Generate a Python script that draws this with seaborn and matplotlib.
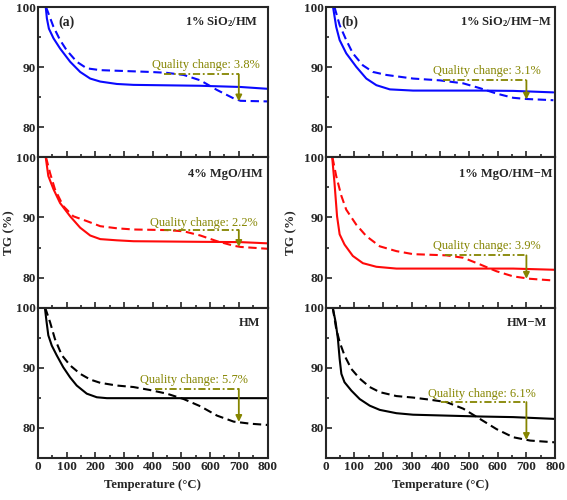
import numpy as np
import pandas as pd
import matplotlib
matplotlib.use("Agg")
import matplotlib.pyplot as plt
from matplotlib.ticker import MultipleLocator
import seaborn as sns

# ---------------- data ----------------
# (a) top: 1% SiO2/HM
T_a1_solid = [27, 31, 38, 54, 77, 112, 147, 182, 217, 275, 333, 566, 706, 799]
TG_a1_solid = [100, 98.1, 96.4, 94.8, 93.1, 90.9, 89.2, 88.1, 87.6, 87.2, 87.05, 86.9, 86.7, 86.4]
T_a1_dash = [28, 54, 77, 100, 135, 170, 217, 275, 333, 391, 449, 508, 566, 624, 682, 706, 799]
TG_a1_dash = [100, 96.7, 94.5, 92.8, 90.9, 89.8, 89.5, 89.4, 89.3, 89.2, 89.05, 88.7, 87.8, 86.2, 84.8, 84.4, 84.3]

# (b) top: 1% SiO2/HM-M
T_b1_solid = [26, 37, 49, 72, 107, 142, 177, 224, 305, 421, 538, 654, 794]
TG_b1_solid = [100, 96.7, 94.5, 92.3, 90.05, 88.1, 87.0, 86.3, 86.1, 86.1, 86.1, 86.05, 85.8]
T_b1_dash = [31, 49, 72, 95, 130, 165, 212, 305, 398, 480, 538, 596, 654, 701, 794]
TG_b1_dash = [100, 97.0, 94.5, 92.3, 90.3, 89.2, 88.7, 88.1, 87.8, 87.3, 86.5, 85.6, 84.9, 84.7, 84.5]

# (a) middle: 4% MgO/HM
T_a2_solid = [27, 36, 54, 77, 112, 147, 182, 217, 275, 333, 566, 706, 799]
TG_a2_solid = [100, 96.9, 94.7, 92.4, 90.2, 88.3, 87.0, 86.4, 86.2, 86.05, 85.95, 85.9, 85.7]
T_a2_dash = [28, 42, 59, 88, 123, 170, 217, 275, 333, 449, 508, 566, 624, 682, 706, 799]
TG_a2_dash = [100, 97.4, 94.7, 91.9, 90.2, 89.4, 88.55, 88.2, 88.0, 87.9, 87.7, 87.0, 86.05, 85.3, 85.1, 84.8]

# (b) middle: 1% MgO/HM-M
T_b2_solid = [23, 31, 40, 49, 66, 95, 130, 177, 247, 421, 654, 800]
TG_b2_solid = [100, 95.8, 90.2, 87.2, 85.5, 83.6, 82.4, 81.8, 81.5, 81.5, 81.5, 81.3]
T_b2_dash = [24, 37, 55, 72, 107, 142, 189, 247, 305, 421, 480, 538, 596, 654, 713, 800]
TG_b2_dash = [100, 96.9, 93.6, 91.3, 88.8, 86.9, 85.2, 84.4, 83.9, 83.7, 83.3, 82.2, 81.05, 80.2, 79.8, 79.5]

# (a) bottom: HM
T_a3_solid = [24, 30, 36, 48, 65, 88, 112, 135, 170, 205, 240, 333, 799]
TG_a3_solid = [100, 97.6, 95.4, 93.7, 92.1, 90.1, 88.4, 87.05, 85.7, 85.1, 84.95, 84.95, 84.95]
T_a3_dash = [25, 42, 59, 83, 112, 147, 182, 217, 275, 333, 391, 449, 508, 566, 624, 682, 741, 799]
TG_a3_dash = [100, 97.6, 94.8, 92.1, 90.4, 89.0, 88.05, 87.5, 87.05, 86.8, 86.3, 85.7, 84.8, 83.6, 82.05, 81.05, 80.7, 80.5]

# (b) bottom: HM-M
T_b3_solid = [25, 35, 43, 49, 55, 66, 90, 119, 154, 189, 247, 305, 421, 538, 654, 800]
TG_b3_solid = [100, 97.6, 94.8, 91.5, 89.0, 87.6, 86.2, 84.8, 83.7, 83.0, 82.45, 82.2, 82.05, 81.9, 81.8, 81.5]
T_b3_dash = [25, 37, 49, 66, 90, 119, 154, 189, 247, 305, 363, 421, 480, 538, 596, 654, 713, 800]
TG_b3_dash = [100, 96.5, 94.3, 92.05, 89.8, 88.2, 86.8, 85.95, 85.3, 85.05, 84.7, 84.3, 83.2, 81.5, 79.8, 78.45, 77.9, 77.6]

sample_labels = ["1% SiO$_\\mathbf{2}$/HM", "1% SiO$_\\mathbf{2}$/HM\u2212M",
                 "4% MgO/HM", "1% MgO/HM\u2212M", "HM", "HM\u2212M"]
panel_tags = ["(a)", "(b)"]
change_labels = ["Quality change: 3.8%", "Quality change: 3.1%",
                 "Quality change: 2.2%", "Quality change: 3.9%",
                 "Quality change: 5.7%", "Quality change: 6.1%"]
# annotation geometry: (line start T, line TG, arrow end TG, text T, text TG)
change_geom = [(438, 88.8, 84.3, 398, 90.3), (410, 87.8, 84.6, 375, 89.3),
               (438, 87.9, 85.1, 391, 89.0), (416, 83.7, 79.8, 375, 85.3),
               (408, 86.5, 81.0, 356, 88.05), (404, 84.3, 78.0, 357, 85.7)]

# ---------------- style ----------------
sns.set_style("ticks")
plt.rcParams["font.family"] = ["Liberation Serif", "DejaVu Serif"]
plt.rcParams["font.weight"] = "bold"
plt.rcParams["mathtext.fontset"] = "custom"
plt.rcParams["mathtext.rm"] = "Liberation Serif:bold"
plt.rcParams["mathtext.bf"] = "Liberation Serif:bold"
plt.rcParams["mathtext.it"] = "Liberation Serif:bold:italic"
plt.rcParams["axes.linewidth"] = 1.5

olive = "#858500"
colors = ["#0a0aff", "#0a0aff", "#ff0a0a", "#ff0a0a", "black", "black"]
curves = [
    (T_a1_solid, TG_a1_solid, T_a1_dash, TG_a1_dash),
    (T_b1_solid, TG_b1_solid, T_b1_dash, TG_b1_dash),
    (T_a2_solid, TG_a2_solid, T_a2_dash, TG_a2_dash),
    (T_b2_solid, TG_b2_solid, T_b2_dash, TG_b2_dash),
    (T_a3_solid, TG_a3_solid, T_a3_dash, TG_a3_dash),
    (T_b3_solid, TG_b3_solid, T_b3_dash, TG_b3_dash),
]
label_pos = [(0.962, 0.905), (0.987, 0.905), (0.978, 0.887), (0.987, 0.887), (0.97, 0.9), (0.965, 0.9)]

fig, axes = plt.subplots(3, 2, figsize=(5.67, 5.0), dpi=100)
fig.subplots_adjust(left=0.067, right=0.979, top=0.986, bottom=0.084, hspace=0, wspace=0.253)

for i, ax in enumerate(axes.flat):
    Ts, Gs, Td, Gd = curves[i]
    df_s = pd.DataFrame({"T": Ts, "TG": Gs})
    df_d = pd.DataFrame({"T": Td, "TG": Gd})
    sns.lineplot(data=df_s, x="T", y="TG", color=colors[i], lw=1.5, estimator=None, ax=ax)
    sns.lineplot(data=df_d, x="T", y="TG", color=colors[i], lw=1.5, estimator=None,
                 linestyle=(0, (4, 2.2)), ax=ax)
    ax.set_xlim(0, 800)
    ax.set_ylim(75, 100)
    ax.xaxis.set_major_locator(MultipleLocator(100))
    ax.xaxis.set_minor_locator(MultipleLocator(50))
    ax.yaxis.set_major_locator(MultipleLocator(10))
    ax.yaxis.set_minor_locator(MultipleLocator(5))
    ax.tick_params(which="both", direction="in", width=1.2, labelsize=9.5)
    ax.tick_params(axis="y", which="both", pad=1.5)
    ax.tick_params(axis="x", which="both", pad=2.5)
    ax.tick_params(which="major", length=4)
    ax.tick_params(which="minor", length=2.2)
    for lab in ax.get_xticklabels() + ax.get_yticklabels():
        lab.set_fontweight("bold")
    ax.set_xlabel("")
    ax.set_ylabel("")
    col = i % 2
    row = i // 2
    if row < 2:
        ax.tick_params(labelbottom=False)
    else:
        ax.set_xlabel("Temperature (\u00b0C)", fontsize=9.2, fontweight="bold", labelpad=4)
    if row == 1:
        ax.set_ylabel("TG (%)", fontsize=9.5, fontweight="bold")
        ax.yaxis.set_label_coords(-0.10 if col == 0 else -0.125, 0.5)
    if row == 0:
        ax.text(0.087 if col == 0 else 0.07, 0.9, panel_tags[col], transform=ax.transAxes,
                fontsize=10, fontweight="bold", ha="left", va="center")
    lx, ly = label_pos[i]
    ax.text(lx, ly, sample_labels[i], transform=ax.transAxes, fontsize=9,
            fontweight="bold", ha="right", va="center")
    x0, yl, ye, tx, ty = change_geom[i]
    ax.plot([x0, 700], [yl, yl], color=olive, lw=1.3, linestyle=(0, (4, 1.5, 1, 1.5)))
    ax.annotate("", xy=(700, ye), xytext=(700, yl),
                arrowprops=dict(arrowstyle="-|>", color=olive, lw=1.3,
                                mutation_scale=9, shrinkA=0, shrinkB=0))
    ax.text(tx, ty, change_labels[i], color=olive, fontsize=8.9, fontweight="normal",
            ha="left", va="center")

fig.savefig("out.png", dpi=100)
